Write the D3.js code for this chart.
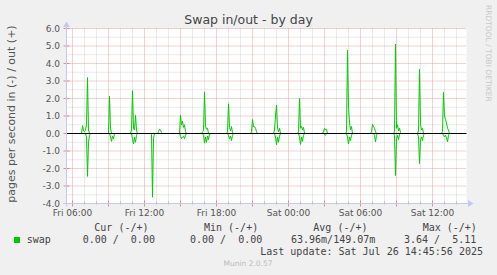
<!DOCTYPE html>
<html>
<head>
<meta charset="utf-8">
<script src="https://cdn.jsdelivr.net/npm/d3@7"></script>
<style>
  body { margin: 0; background: #f0f0f0; }
  text { font-family: "DejaVu Sans", sans-serif; }
  .mono { font-family: "DejaVu Sans Mono", monospace; font-size: 10px; fill: #444; }
</style>
</head>
<body>
<div id="chart"></div>
<script>
// Graph window: 400 samples of 5 min, starting Fri 05:30
var startTime = new Date(2025, 6, 25, 5, 30);
var endTime = new Date(2025, 6, 26, 14, 50);
var stepMinutes = 5;
var sampleCount = 400;

// non-zero samples: [sample index, pages/s]
var swapOut = [
  [16, 0.45], [17, 0.15], [18, 0.1], [19, 0.2], [20, 0.5], [21, 3.2], [22, 0.2],
  [43, 2.13], [44, 0.3],
  [65, 0.2], [66, 2.45], [67, 0.3], [68, 0.2], [69, 1.05], [70, 0.2],
  [92, 0.1], [93, 0.25], [94, 0.2], [95, 0.05],
  [114, 1.05], [115, 0.5], [116, 0.7], [117, 0.35], [118, 0.5], [119, 0.1],
  [136, 0.1], [137, 0.15], [138, 2.38], [139, 0.4], [140, 0.25], [141, 0.3],
  [161, 0.1], [162, 1.7], [163, 0.35], [164, 0.15], [165, 0.4], [166, 0.05],
  [185, 0.1], [186, 0.8], [187, 0.4], [188, 0.4], [189, 0.3], [190, 0.1],
  [208, 0.2], [209, 1.0], [210, 1.62], [211, 0.3], [212, 0.1], [213, 0.3],
  [232, 0.1], [233, 2.0], [234, 0.3], [235, 0.4], [236, 0.2], [237, 0.35],
  [257, 0.1], [258, 0.3], [259, 0.2], [260, 0.25],
  [280, 0.1], [281, 4.75], [282, 1.5], [283, 0.65], [284, 0.2], [285, 0.4],
  [305, 0.1], [306, 0.53], [307, 0.4], [308, 0.3], [309, 0.1],
  [328, 0.1], [329, 5.11], [330, 0.3], [331, 0.5], [332, 0.15], [333, 0.3], [334, 0.05],
  [352, 0.15], [353, 3.66], [354, 0.5], [355, 0.2], [356, 0.3],
  [376, 0.1], [377, 2.35], [378, 1.0], [379, 0.8], [380, 0.6], [381, 0.3], [382, 0.2]
];

// swap in is drawn below zero
var swapIn = [
  [20, 0.2], [21, 2.45], [22, 0.5], [23, 0.1],
  [44, 0.2], [45, 0.45], [46, 0.15], [47, 0.3],
  [66, 0.3], [67, 0.6], [68, 0.2], [69, 0.5], [70, 0.1],
  [85, 0.05], [86, 3.64], [87, 0.3],
  [114, 0.15], [115, 0.3], [116, 0.2], [117, 0.15], [118, 0.3], [119, 0.1],
  [137, 0.1], [138, 0.55], [139, 0.2], [140, 0.5], [141, 0.15], [142, 0.35],
  [162, 0.1], [163, 0.3], [164, 0.15], [165, 0.4], [166, 0.1],
  [209, 0.2], [210, 0.65], [211, 0.2], [212, 0.5], [213, 0.15],
  [233, 0.2], [234, 0.62], [235, 0.2], [236, 0.45], [237, 0.1],
  [258, 0.05], [259, 0.1],
  [281, 0.2], [282, 0.6], [283, 0.2], [284, 0.4], [285, 0.1],
  [308, 0.1], [309, 0.48], [310, 0.1],
  [328, 0.1], [329, 2.4], [330, 0.3], [331, 0.1], [332, 0.35], [333, 0.05],
  [352, 0.2], [353, 1.72], [354, 0.35], [355, 0.2], [356, 0.4], [357, 0.1],
  [377, 0.1], [378, 0.2], [379, 0.1], [380, 0.25], [381, 0.48], [382, 0.1]
];

var yTicks = [-4, -3, -2, -1, 0, 1, 2, 3, 4, 5, 6];
var xLabels = ["Fri 06:00", "Fri 12:00", "Fri 18:00", "Sat 00:00", "Sat 06:00", "Sat 12:00"];

var legendHeader = ["Cur (-/+)", "Min (-/+)", "Avg (-/+)", "Max (-/+)"];
var legendValues = ["0.00 /  0.00", "0.00 /  0.00", "63.96m/149.07m", "3.64 /  5.11"];

var svgWidth = 497;
var svgHeight = 275;

var svg = d3.select("#chart").append("svg")
  .attr("width", svgWidth).attr("height", svgHeight);

svg.append("rect").attr("width", svgWidth).attr("height", svgHeight).attr("fill", "#f0f0f0");

var xScale = d3.scaleTime().domain([startTime, endTime]).range([66.5, 466.5]);
var yScale = d3.scaleLinear().domain([-4, 6]).range([203.5, 28.5]);

// plot canvas
svg.append("rect")
  .attr("x", xScale.range()[0]).attr("y", yScale(6))
  .attr("width", xScale.range()[1] - xScale.range()[0])
  .attr("height", yScale(-4) - yScale(6))
  .attr("fill", "#ffffff");

// full series, zero where nothing shows
function buildSeries(samples, sign) {
  var values = d3.range(sampleCount).map(function() { return 0; });
  samples.forEach(function(s) { values[s[0]] = sign * s[1]; });
  return values.map(function(v, i) {
    return { t: new Date(startTime.getTime() + i * stepMinutes * 60000), v: v };
  });
}
var outSeries = buildSeries(swapOut, 1);
var inSeries = buildSeries(swapIn, -1);

// grid
var hours = d3.timeHour.range(d3.timeHour.ceil(startTime), endTime);
var minorHours = hours.filter(function(d) { return d.getHours() % 3 !== 0; });
var majorHours = hours.filter(function(d) { return d.getHours() % 3 === 0; });
var halfSteps = d3.range(-3.5, 6, 1);

var grid = svg.append("g");
grid.selectAll(".hminor").data(halfSteps).enter().append("line")
  .attr("x1", xScale.range()[0]).attr("x2", xScale.range()[1])
  .attr("y1", d => yScale(d)).attr("y2", d => yScale(d))
  .attr("stroke", "#d4d4d4").attr("stroke-dasharray", "1,1");
grid.selectAll(".vminor").data(minorHours).enter().append("line")
  .attr("x1", d => xScale(d)).attr("x2", d => xScale(d))
  .attr("y1", yScale(-4)).attr("y2", yScale(6))
  .attr("stroke", "#d4d4d4").attr("stroke-dasharray", "1,1");
grid.selectAll(".hmajor").data(yTicks).enter().append("line")
  .attr("x1", xScale.range()[0]).attr("x2", xScale.range()[1])
  .attr("y1", d => yScale(d)).attr("y2", d => yScale(d))
  .attr("stroke", "#eaa0a0").attr("stroke-dasharray", "1,1");
grid.selectAll(".vmajor").data(majorHours).enter().append("line")
  .attr("x1", d => xScale(d)).attr("x2", d => xScale(d))
  .attr("y1", yScale(-4)).attr("y2", yScale(6))
  .attr("stroke", "#eaa0a0").attr("stroke-dasharray", "1,1");

// axis ticks
grid.selectAll(".tminor").data(minorHours).enter().append("line")
  .attr("x1", d => xScale(d)).attr("x2", d => xScale(d))
  .attr("y1", yScale(-4) - 2).attr("y2", yScale(-4) + 1)
  .attr("stroke", "#b8b8b8");
grid.selectAll(".tmajor").data(majorHours).enter().append("line")
  .attr("x1", d => xScale(d)).attr("x2", d => xScale(d))
  .attr("y1", yScale(-4) - 3).attr("y2", yScale(-4) + 3)
  .attr("stroke", "#ee8888");
grid.selectAll(".ytmajor").data(yTicks).enter().append("line")
  .attr("x1", xScale.range()[0] - 3).attr("x2", xScale.range()[0] + 3)
  .attr("y1", d => yScale(d)).attr("y2", d => yScale(d))
  .attr("stroke", "#ee8888");

// data lines
var line = d3.line().x(d => xScale(d.t)).y(d => yScale(d.v));
svg.append("path").datum(inSeries)
  .attr("d", line).attr("fill", "none").attr("stroke", "#00cc00").attr("stroke-width", 1);
svg.append("path").datum(outSeries)
  .attr("d", line).attr("fill", "none").attr("stroke", "#00cc00").attr("stroke-width", 1);

// zero line
svg.append("line")
  .attr("x1", xScale.range()[0]).attr("x2", xScale.range()[1])
  .attr("y1", yScale(0)).attr("y2", yScale(0))
  .attr("stroke", "#000000");

// axes with arrows
var axisColor = "#c4c8f4";
svg.append("line")
  .attr("x1", xScale.range()[0]).attr("x2", xScale.range()[0])
  .attr("y1", yScale(-4) + 3).attr("y2", yScale(6) - 4)
  .attr("stroke", axisColor);
svg.append("line")
  .attr("x1", xScale.range()[0] - 3).attr("x2", xScale.range()[1] + 3)
  .attr("y1", yScale(-4)).attr("y2", yScale(-4))
  .attr("stroke", axisColor);
var ax = xScale.range()[0], ay = yScale(6);
svg.append("path")
  .attr("d", `M${ax - 3.5},${ay - 1.5} L${ax + 3.5},${ay - 1.5} L${ax},${ay - 7} Z`)
  .attr("fill", axisColor);
var bx = xScale.range()[1], by = yScale(-4);
svg.append("path")
  .attr("d", `M${bx + 1.5},${by - 3.5} L${bx + 1.5},${by + 3.5} L${bx + 7},${by} Z`)
  .attr("fill", axisColor);

// tick labels
svg.selectAll(".ylab").data(yTicks).enter().append("text")
  .attr("x", 60).attr("y", d => yScale(d) + 3.3)
  .attr("text-anchor", "end").attr("font-size", "9px").attr("fill", "#555")
  .text(d => d.toFixed(1));

var labelTimes = hours.filter(function(d) { return d.getHours() % 6 === 0; });
svg.selectAll(".xlab").data(labelTimes).enter().append("text")
  .attr("x", d => xScale(d)).attr("y", 216)
  .attr("text-anchor", "middle").attr("font-size", "9px").attr("fill", "#555")
  .text((d, i) => xLabels[i]);

// titles
svg.append("text")
  .attr("x", 248.5).attr("y", 24)
  .attr("text-anchor", "middle").attr("font-size", "12.5px").attr("fill", "#444")
  .text("Swap in/out - by day");

svg.append("text")
  .attr("transform", "translate(15, 114) rotate(-90)")
  .attr("text-anchor", "middle").attr("font-size", "11px").attr("fill", "#555")
  .text("pages per second in (-) / out (+)");

svg.append("text")
  .attr("transform", "translate(486, 5) rotate(90)")
  .attr("text-anchor", "start").attr("font-size", "7.5px").attr("fill", "#c8c8c8")
  .text("RRDTOOL / TOBI OETIKER");

// legend
var headerX = [94.3, 204, 313.3, 422.7];
var valueX = [82.7, 190, 291, 404];
svg.selectAll(".lhead").data(legendHeader).enter().append("text")
  .attr("class", "mono").attr("x", (d, i) => headerX[i]).attr("y", 230.5)
  .attr("xml:space", "preserve").style("white-space", "pre")
  .text(d => d);

svg.append("rect").attr("x", 14).attr("y", 237).attr("width", 6).attr("height", 6)
  .attr("fill", "#00cc00");
svg.append("text").attr("class", "mono").attr("x", 26.7).attr("y", 243).text("swap");

svg.selectAll(".lval").data(legendValues).enter().append("text")
  .attr("class", "mono").attr("x", (d, i) => valueX[i]).attr("y", 243)
  .style("white-space", "pre")
  .text(d => d);

svg.append("text").attr("class", "mono")
  .attr("x", 483).attr("y", 255).attr("text-anchor", "end")
  .style("white-space", "pre")
  .text("Last update: Sat Jul 26 14:45:56 2025");

svg.append("text")
  .attr("x", 248).attr("y", 266).attr("text-anchor", "middle")
  .attr("font-size", "7.5px").attr("fill", "#bbbbbb")
  .text("Munin 2.0.57");
</script>
</body>
</html>
